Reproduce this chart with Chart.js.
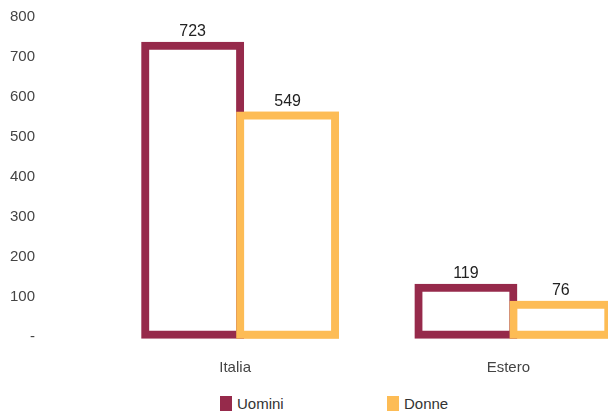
<!DOCTYPE html>
<html lang="it">
<head>
<meta charset="UTF-8">
<title>Uomini e Donne - Italia / Estero</title>
<script src="https://cdn.jsdelivr.net/npm/chart.js"></script>
<style>
  html, body { margin: 0; padding: 0; background: #fff; overflow: hidden; }
  #wrap { position: relative; width: 608px; height: 414px; overflow: hidden; }
  #chart { position: absolute; left: 0; top: 0; }
  #legend {
    position: absolute; left: 220px; top: 396px; display: flex;
    font-family: "Liberation Sans", Arial, sans-serif;
    font-size: 15px; color: #333; line-height: 15px;
  }
  .item { display: flex; align-items: center; width: 167px; }
  .box { width: 12px; height: 15px; margin-right: 5px; }
</style>
</head>
<body>
<div id="wrap">
  <canvas id="chart" width="650" height="384"></canvas>
  <div id="legend"></div>
</div>
<script>
  const categories = ['Italia', 'Estero'];
  const seriesNames = ['Uomini', 'Donne'];
  const uomini = [723, 119];
  const donne = [549, 76];
  const yTickLabels = ['-', '100', '200', '300', '400', '500', '600', '700', '800'];
  const colors = ['#962a4b', '#fdbc55'];

  const FONT = '"Liberation Sans", Arial, sans-serif';

  // chart.js paints the first dataset on top; repaint the later ones so the
  // right-hand bar covers its neighbour, then write the values above the bars
  const valueLabels = {
    id: 'valueLabels',
    afterDatasetsDraw(chart) {
      const ctx = chart.ctx;
      for (let i = 1; i < chart.data.datasets.length; i++) {
        chart.getDatasetMeta(i).data.forEach(bar => bar.draw(ctx));
      }
      ctx.save();
      ctx.font = '16px ' + FONT;
      ctx.fillStyle = '#222';
      ctx.textAlign = 'center';
      ctx.textBaseline = 'alphabetic';
      chart.data.datasets.forEach((ds, i) => {
        chart.getDatasetMeta(i).data.forEach((bar, j) => {
          ctx.fillText(ds.data[j], bar.x, bar.y - 9.5);
        });
      });
      ctx.restore();
    }
  };

  const series = [uomini, donne];
  const chart = new Chart(document.getElementById('chart'), {
    type: 'bar',
    data: {
      labels: categories,
      datasets: seriesNames.map((name, i) => ({
        label: name,
        data: series[i],
        backgroundColor: '#fff',
        borderColor: colors[i],
        borderWidth: 8,
        borderSkipped: false,
        inflateAmount: 4,
        clip: false,
        categoryPercentage: 0.695,
        barPercentage: 1
      }))
    },
    options: {
      responsive: false,
      animation: false,
      layout: { padding: { top: 15, left: 0, right: 0, bottom: 0 } },
      plugins: { legend: { display: false }, tooltip: { enabled: false } },
      scales: {
        x: {
          grid: { display: false, drawTicks: false },
          border: { display: false },
          ticks: { color: '#444', font: { family: FONT, size: 15 }, padding: 24, labelOffset: -5 },
          afterFit(scale) { scale.height = 384 - 335.3; }
        },
        y: {
          min: 0,
          max: 800,
          // invisible tick marks push the labels away from the plot
          grid: { display: true, drawOnChartArea: false, drawTicks: true, tickLength: 66.5, color: 'rgba(0,0,0,0)' },
          border: { display: false },
          ticks: {
            stepSize: 100,
            color: '#444',
            font: { family: FONT, size: 15 },
            padding: 2,
            labelOffset: 2,
            callback: (v, idx) => yTickLabels[idx]
          },
          afterFit(scale) { scale.width = 103.5; }
        }
      }
    },
    plugins: [valueLabels]
  });

  const legend = document.getElementById('legend');
  seriesNames.forEach((name, i) => {
    const item = document.createElement('div');
    item.className = 'item';
    const box = document.createElement('span');
    box.className = 'box';
    box.style.background = colors[i];
    const txt = document.createElement('span');
    txt.textContent = name;
    item.appendChild(box);
    item.appendChild(txt);
    legend.appendChild(item);
  });
</script>
</body>
</html>
